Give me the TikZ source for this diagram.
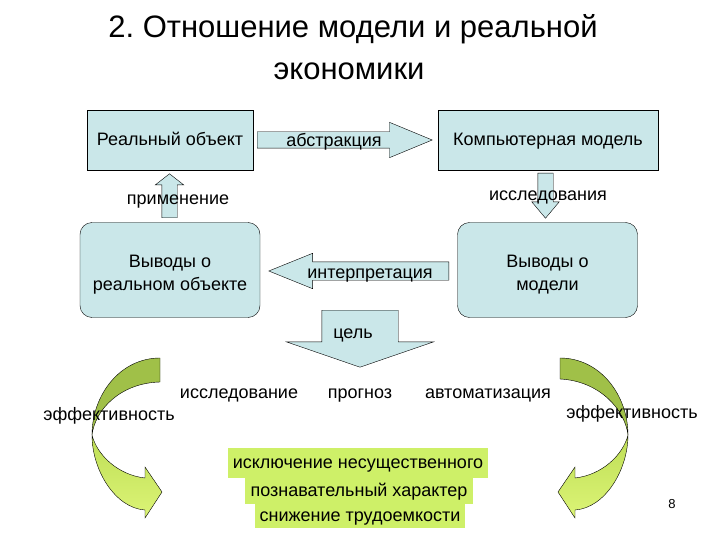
\documentclass[tikz,border=0pt]{standalone}
\usepackage{fontspec}
\setmainfont{Liberation Sans}
\usetikzlibrary{shapes}
\usetikzlibrary{shapes.arrows}
\definecolor{boxblue}{RGB}{202,231,233}
\definecolor{boxgreen}{RGB}{206,240,104}
\definecolor{curvedark}{RGB}{160,192,72}
\definecolor{curvemid}{RGB}{190,222,86}
\definecolor{curvelight}{RGB}{220,244,118}
\frenchspacing
\tikzset{
  txt/.style = {font=\fontsize{18}{23}\selectfont, inner sep=0pt},
  blue_box/.style = {txt, rectangle, draw=black, fill=boxblue,
    align=center, text height=12pt, text depth=0pt},% blocs du schema
  round_box/.style = {blue_box, rounded corners=12pt,
    text height=40pt},% conclusions
  block_arrow/.style = {single arrow, draw=black, fill=boxblue,
    inner xsep=0pt, minimum width=0pt},% fleches pleines
  green_box/.style = {txt, fill=boxgreen, text height=12pt,
    text depth=1pt},% proprietes
  curve_top/.style = {draw=black, line width=0.4pt, fill=curvedark},
  curve_low/.style = {draw=black, line width=0.4pt, top color=curvemid,
    bottom color=curvelight}
}
\begin{document}
\begin{tikzpicture}[x=1pt, y=-1pt]
    \useasboundingbox (0,0) rectangle (720,540);

    % titre
    \node [anchor=base, inner sep=0pt, font=\fontsize{31}{36}\selectfont]
      (title1) at (353,38) {2. Отношение модели и реальной};
    \node [anchor=base, inner sep=0pt, font=\fontsize{31}{36}\selectfont]
      (title2) at (349,80) {экономики};

    % blocs
    \node [blue_box, minimum width=166pt, minimum height=60pt]
      (real) at (170,140) {Реальный объект};
    \node [blue_box, minimum width=220pt, minimum height=60pt]
      (model) at (548,140) {Компьютерная модель};
    \node [round_box, minimum width=180pt, minimum height=95pt]
      (concl_real) at (170,270) {Выводы о\\реальном объекте};
    \node [round_box, minimum width=180pt, minimum height=95pt]
      (concl_model) at (547.5,270) {Выводы о\\модели};

    % fleches
    \node [block_arrow, inner ysep=8pt, single arrow head extend=9.5pt,
      minimum height=175pt, single arrow tip angle=45, anchor=tail]
      (abstr) at (257,140) {};
    \node [block_arrow, inner ysep=9pt, single arrow head extend=8.5pt,
      minimum height=180pt, single arrow tip angle=44,
      shape border rotate=180, anchor=tail] (interp) at (449,271) {};
    \node [block_arrow, inner xsep=7.5pt, inner ysep=0pt,
      single arrow head extend=6.5pt, minimum height=44pt,
      single arrow tip angle=104, shape border rotate=90, anchor=tail]
      (appl) at (169.5,218) {};
    \node [block_arrow, inner xsep=7.5pt, inner ysep=0pt,
      single arrow head extend=6pt, minimum height=45pt,
      single arrow tip angle=80, shape border rotate=270, anchor=tail]
      (study) at (545.5,173) {};
    \node [block_arrow, inner xsep=38pt, inner ysep=0pt,
      single arrow head extend=35.5pt, minimum height=57pt,
      single arrow tip angle=142, shape border rotate=270, anchor=tail]
      (goal) at (360,310) {};

    \node [txt, anchor=base] (abstr_lbl) at (334,147) {абстракция};
    \node [txt, anchor=base] (interp_lbl) at (370,278) {интерпретация};
    \node [txt, anchor=base] (appl_lbl) at (178,205) {применение};
    \node [txt, anchor=base] (study_lbl) at (548,201) {исследования};
    \node [txt, anchor=base] (goal_lbl) at (353,338) {цель};

    % fleches courbes
    \draw [curve_top] (160,358) .. controls (120,358) and (92,395) .. (92,435)
      .. controls (95,410) and (120,383) .. (160,382) -- cycle;
    \draw [curve_low] (92,435) .. controls (92,470) and (115,508) .. (145,510)
      -- (145,518) -- (162,492) -- (145,467) -- (145,478)
      .. controls (118,475) and (97,455) .. (92,435) -- cycle;
    \draw [curve_top] (560,358) .. controls (600,358) and (628,395) .. (628,435)
      .. controls (625,410) and (600,381) .. (560,379) -- cycle;
    \draw [curve_low] (628,435) .. controls (628,470) and (605,508) .. (575,510)
      -- (575,518) -- (558,492) -- (575,467) -- (575,478)
      .. controls (602,475) and (623,455) .. (628,435) -- cycle;

    % buts
    \node [txt, anchor=base] (res) at (239,398) {исследование};
    \node [txt, anchor=base] (forecast) at (360,398) {прогноз};
    \node [txt, anchor=base] (autom) at (488,398) {автоматизация};
    \node [txt, anchor=base] (eff_left) at (109,420) {эффективность};
    \node [txt, anchor=base] (eff_right) at (632,418) {эффективность};

    % proprietes
    \node [green_box, minimum width=260pt, minimum height=30pt]
      (prop1) at (358,463) {исключение несущественного};
    \node [green_box, minimum width=228pt, minimum height=26pt]
      (prop2) at (359,491) {познавательный характер};
    \node [green_box, minimum width=210pt, minimum height=24pt]
      (prop3) at (360,516) {снижение трудоемкости};

    \node [anchor=base, inner sep=0pt, font=\fontsize{13}{15}\selectfont]
      (page) at (672,508) {8};
\end{tikzpicture}
\end{document}
